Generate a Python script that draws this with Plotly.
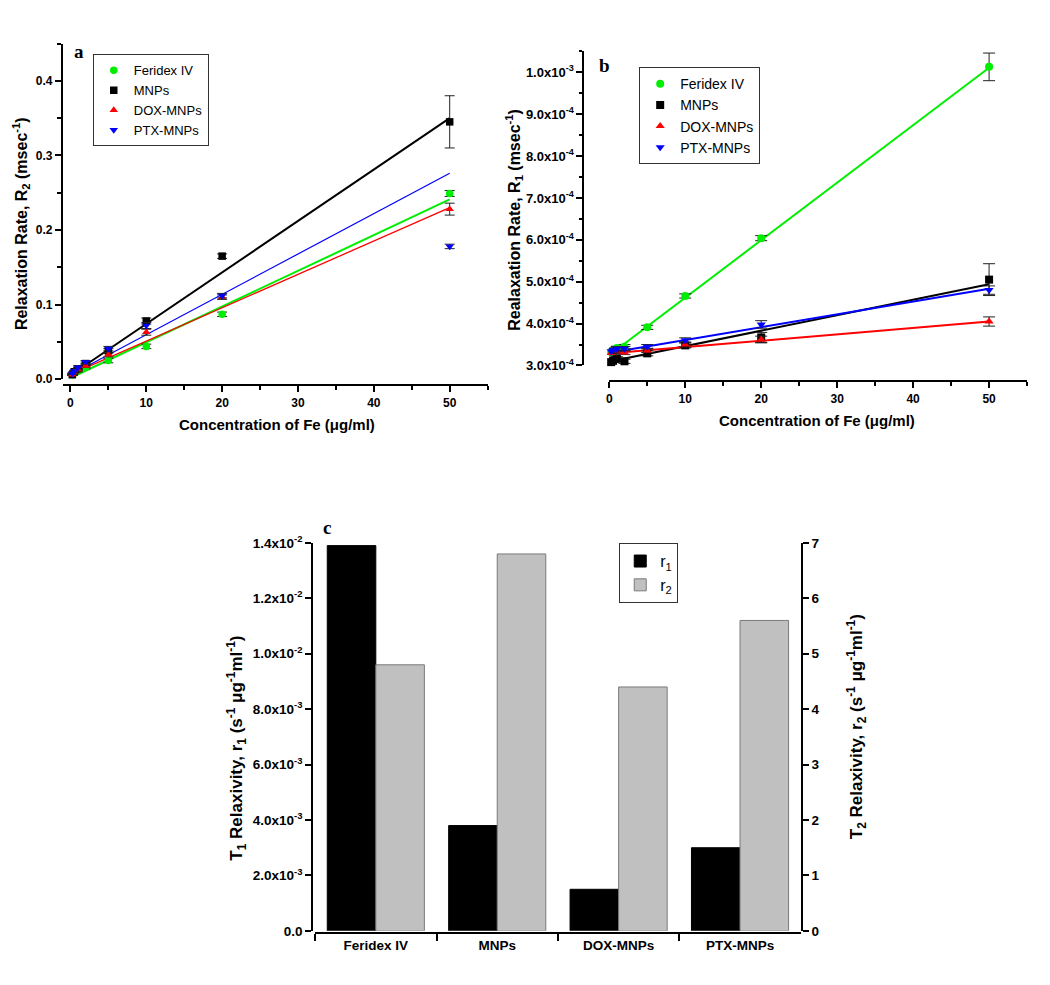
import plotly.graph_objects as go

# page body has an 8px default margin: the figure is drawn inside it
OFF = 8
W, H = 1050 - OFF, 985 - OFF

# ---------------- data ----------------
conc = [0.25, 0.5, 1, 2, 5, 10, 20, 50]
names = ["Feridex IV", "MNPs", "DOX-MNPs", "PTX-MNPs"]
colors = ["#00ee00", "#000000", "#ff0000", "#0000ff"]
symbols = ["circle", "square", "triangle-up", "triangle-down"]

# panel a : R2 (msec^-1)
r2_feridex = [0.006, 0.009, 0.012, 0.016, 0.025, 0.044, 0.087, 0.249]
r2_mnps = [0.006, 0.010, 0.014, 0.021, 0.038, 0.078, 0.165, 0.345]
r2_dox = [0.006, 0.009, 0.013, 0.018, 0.033, 0.063, 0.110, 0.228]
r2_ptx = [0.0075, 0.011, 0.016, 0.023, 0.041, 0.072, 0.112, 0.178]
r2_feridex_err = [0.001, 0.001, 0.001, 0.002, 0.003, 0.003, 0.003, 0.004]
r2_mnps_err = [0.001, 0.001, 0.002, 0.002, 0.003, 0.004, 0.003, 0.035]
r2_dox_err = [0.001, 0.001, 0.002, 0.002, 0.003, 0.004, 0.003, 0.008]
r2_ptx_err = [0.001, 0.001, 0.002, 0.002, 0.003, 0.004, 0.003, 0.003]
fit_x = [0.25, 50]
fit_r2_feridex = [0.003, 0.241]
fit_r2_mnps = [0.007, 0.350]
fit_r2_dox = [0.0075, 0.230]
fit_r2_ptx = [0.007, 0.276]

# panel b : R1 (msec^-1)
r1_feridex = [3.32e-4, 3.36e-4, 3.42e-4, 3.45e-4, 3.91e-4, 4.66e-4, 6.04e-4, 1.013e-3]
r1_mnps = [3.08e-4, 3.12e-4, 3.16e-4, 3.10e-4, 3.29e-4, 3.48e-4, 3.67e-4, 5.05e-4]
r1_dox = [3.30e-4, 3.32e-4, 3.34e-4, 3.31e-4, 3.36e-4, 3.50e-4, 3.62e-4, 4.05e-4]
r1_ptx = [3.34e-4, 3.37e-4, 3.40e-4, 3.40e-4, 3.45e-4, 3.60e-4, 3.98e-4, 4.80e-4]
r1_feridex_err = [0.04e-4, 0.04e-4, 0.04e-4, 0.05e-4, 0.05e-4, 0.05e-4, 0.06e-4, 0.33e-4]
r1_mnps_err = [0.05e-4, 0.05e-4, 0.05e-4, 0.05e-4, 0.06e-4, 0.06e-4, 0.12e-4, 0.38e-4]
r1_dox_err = [0.05e-4, 0.05e-4, 0.05e-4, 0.05e-4, 0.05e-4, 0.06e-4, 0.08e-4, 0.11e-4]
r1_ptx_err = [0.05e-4, 0.05e-4, 0.05e-4, 0.05e-4, 0.05e-4, 0.06e-4, 0.09e-4, 0.10e-4]
fit_r1_feridex = [3.28e-4, 1.011e-3]
fit_r1_mnps = [3.10e-4, 4.94e-4]
fit_r1_dox = [3.29e-4, 4.05e-4]
fit_r1_ptx = [3.31e-4, 4.83e-4]

# panel c : relaxivities
categories = ["Feridex IV", "MNPs", "DOX-MNPs", "PTX-MNPs"]
r1_relax = [1.39e-2, 3.8e-3, 1.5e-3, 3.0e-3]
r2_relax = [4.8, 6.8, 4.4, 5.6]

a_ytick_vals = [0, 0.1, 0.2, 0.3, 0.4]
a_ytick_text = ["0.0", "0.1", "0.2", "0.3", "0.4"]
b_ytick_vals = [3e-4, 4e-4, 5e-4, 6e-4, 7e-4, 8e-4, 9e-4, 1e-3]
b_ytick_text = ["3.0x10<sup>-4</sup>", "4.0x10<sup>-4</sup>", "5.0x10<sup>-4</sup>",
                "6.0x10<sup>-4</sup>", "7.0x10<sup>-4</sup>", "8.0x10<sup>-4</sup>",
                "9.0x10<sup>-4</sup>", "1.0x10<sup>-3</sup>"]
c_ytick_vals = [0, 0.002, 0.004, 0.006, 0.008, 0.010, 0.012, 0.014]
c_ytick_text = ["0.0", "2.0x10<sup>-3</sup>", "4.0x10<sup>-3</sup>", "6.0x10<sup>-3</sup>",
                "8.0x10<sup>-3</sup>", "1.0x10<sup>-2</sup>", "1.2x10<sup>-2</sup>",
                "1.4x10<sup>-2</sup>"]

# ---------------- helpers (window pixels -> paper fractions) ----------------
def px(x):
    return (x - OFF) / W

def py(y):
    return 1 - (y - OFF) / H

FONT = "Liberation Sans, Arial, sans-serif"
SERIF = "Liberation Serif, Times New Roman, serif"

def tf(size):
    return dict(family=FONT, size=size, color="black", weight="bold")

fig = go.Figure()

# panel a
a_vals = [r2_feridex, r2_mnps, r2_dox, r2_ptx]
a_errs = [r2_feridex_err, r2_mnps_err, r2_dox_err, r2_ptx_err]
a_fits = [fit_r2_feridex, fit_r2_mnps, fit_r2_dox, fit_r2_ptx]
a_lw = [2, 2, 1.3, 1.2]
for i in range(4):
    fig.add_trace(go.Scatter(x=fit_x, y=a_fits[i], mode="lines",
                             line=dict(color=colors[i], width=a_lw[i]),
                             showlegend=False, xaxis="x", yaxis="y", hoverinfo="skip"))
for i in range(4):
    fig.add_trace(go.Scatter(x=conc, y=a_vals[i], mode="markers", name=names[i],
                             marker=dict(color=colors[i], symbol=symbols[i], size=7.5),
                             error_y=dict(type="data", array=a_errs[i], color="#222",
                                          thickness=1, width=5),
                             cliponaxis=False, legend="legend", xaxis="x", yaxis="y"))

# panel b
b_vals = [r1_feridex, r1_mnps, r1_dox, r1_ptx]
b_errs = [r1_feridex_err, r1_mnps_err, r1_dox_err, r1_ptx_err]
b_fits = [fit_r1_feridex, fit_r1_mnps, fit_r1_dox, fit_r1_ptx]
for i in range(4):
    fig.add_trace(go.Scatter(x=fit_x, y=b_fits[i], mode="lines",
                             line=dict(color=colors[i], width=2),
                             showlegend=False, xaxis="x2", yaxis="y2", hoverinfo="skip"))
for i in range(4):
    fig.add_trace(go.Scatter(x=conc, y=b_vals[i], mode="markers", name=names[i],
                             marker=dict(color=colors[i], symbol=symbols[i], size=8),
                             error_y=dict(type="data", array=b_errs[i], color="#222",
                                          thickness=1, width=6),
                             cliponaxis=False, legend="legend2", xaxis="x2", yaxis="y2"))

# panel c
fig.add_trace(go.Bar(x=categories, y=r1_relax, name="r<sub>1</sub>",
                     marker=dict(color="black", line=dict(color="black", width=1)),
                     offsetgroup="r1", legend="legend3", xaxis="x3", yaxis="y3"))
fig.add_trace(go.Bar(x=categories, y=r2_relax, name="r<sub>2</sub>",
                     marker=dict(color="#c0c0c0", line=dict(color="#7a7a7a", width=1)),
                     offsetgroup="r2", legend="legend3", xaxis="x3", yaxis="y4"))

axis_common = dict(showline=True, linecolor="black", linewidth=2, ticks="outside",
                   tickcolor="black", tickwidth=2, ticklen=6, showgrid=False,
                   zeroline=False, tickfont=tf(12))
minor_y = dict(ticks="outside", ticklen=3.5, tickcolor="black", tickwidth=1.5)

legend_common = dict(bgcolor="white", bordercolor="#333", borderwidth=1,
                     font=dict(family=FONT, size=13, color="black"),
                     xanchor="left", yanchor="top", tracegroupgap=0)

fig.update_layout(
    width=W, height=H, margin=dict(l=0, r=0, t=0, b=0),
    paper_bgcolor="white", plot_bgcolor="white",
    barmode="group", bargap=0.2, bargroupgap=0,
    xaxis=dict(axis_common, domain=[px(60), px(486)], range=[-1, 55], anchor="free",
               position=py(382), tickvals=[0, 10, 20, 30, 40, 50],
               minor=dict(minor_y, dtick=5, tick0=0)),
    yaxis=dict(axis_common, domain=[py(376), py(34)], range=[0, 0.45], anchor="x",
               tickvals=a_ytick_vals, ticktext=a_ytick_text,
               minor=dict(minor_y, dtick=0.05, tick0=0)),
    xaxis2=dict(axis_common, domain=[px(608), px(1027)], range=[0, 55], anchor="free",
                position=py(378), tickvals=[0, 10, 20, 30, 40, 50],
                minor=dict(minor_y, dtick=5, tick0=0)),
    yaxis2=dict(axis_common, domain=[py(362), py(42)], range=[3.0e-4, 1.05e-3],
                anchor="free", position=px(582), tickfont=tf(13),
                tickvals=b_ytick_vals, ticktext=b_ytick_text,
                minor=dict(minor_y, dtick=0.5e-4, tick0=0)),
    xaxis3=dict(axis_common, domain=[px(313), px(800)], range=[-0.5, 3.5], anchor="free",
                position=py(940), type="category", tickson="boundaries", ticklen=7,
                tickfont=tf(13.5)),
    yaxis3=dict(axis_common, domain=[py(938), py(542.7)], range=[0, 0.014],
                anchor="free", position=px(310), tickfont=tf(13.5),
                tickvals=c_ytick_vals, ticktext=c_ytick_text),
    yaxis4=dict(axis_common, overlaying="y3", side="right", anchor="x3", range=[0, 7],
                tickfont=tf(13.5), tickvals=[0, 1, 2, 3, 4, 5, 6, 7]),
    legend=dict(legend_common, x=px(90), y=py(45)),
    legend2=dict(legend_common, x=px(638), y=py(58),
                 font=dict(family=FONT, size=14, color="black")),
    legend3=dict(legend_common, x=px(618), y=py(543),
                 font=dict(family=FONT, size=16, color="black")),
)

annots = [
    dict(text="Relaxation Rate, R<sub>2</sub> (msec<sup>-1</sup>)", x=px(18), y=py(217),
         textangle=-90, font=tf(16)),
    dict(text="Concentration of Fe (\u03bcg/ml)", x=px(275), y=py(422), font=tf(15)),
    dict(text="Realaxation Rate, R<sub>1</sub> (msec<sup>-1</sup>)", x=px(513), y=py(214),
         textangle=-90, font=tf(16)),
    dict(text="Concentration of Fe (\u03bcg/ml)", x=px(816), y=py(418), font=tf(15)),
    dict(text="T<sub>1</sub> Relaxivity, r<sub>1</sub> (s<sup>-1</sup> \u03bcg<sup>-1</sup>ml<sup>-1</sup>)",
         x=px(234), y=py(752), textangle=-90, font=tf(17)),
    dict(text="T<sub>2</sub> Relaxivity, r<sub>2</sub> (s<sup>-1</sup> \u03bcg<sup>-1</sup>ml<sup>-1</sup>)",
         x=px(856), y=py(730), textangle=-90, font=tf(17)),
    dict(text="a", x=px(76), y=py(42), font=dict(family=SERIF, size=19, color="black", weight="bold")),
    dict(text="b", x=px(603), y=py(56), font=dict(family=SERIF, size=19, color="black", weight="bold")),
    dict(text="c", x=px(325), y=py(527), font=dict(family=SERIF, size=19, color="black", weight="bold")),
]
for a in annots:
    fig.add_annotation(xref="paper", yref="paper", showarrow=False,
                       xanchor="center", yanchor="middle", **a)

fig.write_html("out.html")
